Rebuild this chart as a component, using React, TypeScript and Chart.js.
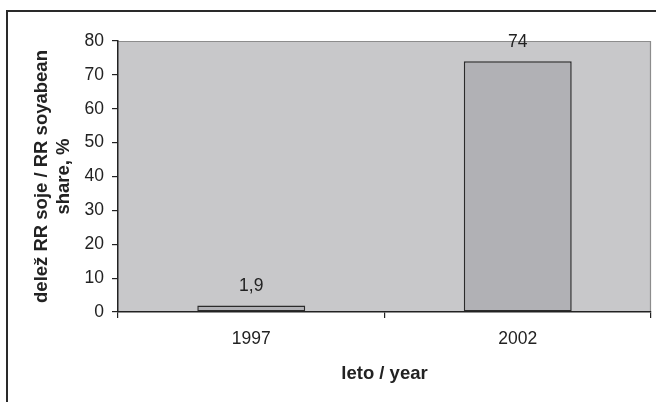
import React, { useEffect, useRef } from "react";
import { Chart, registerables } from "chart.js";

Chart.register(...registerables);

const categories = ["1997", "2002"];
const shareValues = [1.9, 74];
const valueLabels = ["1,9", "74"];
const yTitle = ["delež RR soje / RR soyabean", "share, %"];
const xTitle = "leto / year";

const FONT = "'Liberation Sans', Arial, sans-serif";
const INK = "#222222";

const framePlugin = {
  id: "framePlugin",
  beforeDraw(chart: any) {
    const { ctx, chartArea } = chart;
    ctx.save();
    ctx.fillStyle = "#ffffff";
    ctx.fillRect(0, 0, chart.width, chart.height);
    // outer frame
    ctx.fillStyle = "#2a2a2a";
    ctx.fillRect(6, 10, chart.width - 6, 2);
    ctx.fillRect(6, 10, 2, chart.height - 10);
    // plot area
    ctx.fillStyle = "#c8c8ca";
    ctx.fillRect(chartArea.left, chartArea.top, chartArea.right - chartArea.left, chartArea.bottom - chartArea.top);
    ctx.strokeStyle = "#8c8c8c";
    ctx.lineWidth = 1.2;
    ctx.beginPath();
    ctx.moveTo(chartArea.left, chartArea.top + 0.5);
    ctx.lineTo(chartArea.right - 0.5, chartArea.top + 0.5);
    ctx.lineTo(chartArea.right - 0.5, chartArea.bottom);
    ctx.stroke();
    ctx.restore();
  },
  afterDatasetsDraw(chart: any) {
    const { ctx } = chart;
    const meta = chart.getDatasetMeta(0);
    ctx.save();
    ctx.fillStyle = INK;
    ctx.font = `17.5px ${FONT}`;
    ctx.textAlign = "center";
    ctx.textBaseline = "middle";
    meta.data.forEach((bar: any, i: number) => {
      ctx.fillText(valueLabels[i], bar.x, bar.y - 19);
    });
    ctx.restore();
  },
};

export default function App() {
  const ref = useRef<HTMLCanvasElement | null>(null);
  useEffect(() => {
    if (!ref.current) return;
    const chart = new Chart(ref.current, {
      type: "bar",
      data: {
        labels: categories,
        datasets: [
          {
            data: shareValues,
            backgroundColor: "#b1b1b5",
            borderColor: "#2b2b2b",
            borderWidth: 1.5,
            borderSkipped: false,
            categoryPercentage: 1,
            barPercentage: 0.405,
          },
        ],
      },
      options: {
        animation: false,
        responsive: true,
        maintainAspectRatio: false,
        layout: { padding: { left: 0, top: 41, right: 5, bottom: 0 } },
        plugins: { legend: { display: false }, tooltip: { enabled: false } },
        scales: {
          x: {
            afterFit: (s: any) => {
              s.height = 90;
            },
            grid: { drawOnChartArea: false, drawTicks: true, tickLength: 6, color: INK, lineWidth: 1.2 },
            border: { display: true, color: INK, width: 1.5 },
            ticks: { color: INK, font: { family: FONT, size: 17.5 }, padding: 11 },
            title: {
              display: true,
              text: xTitle,
              color: INK,
              font: { family: FONT, size: 18.5, weight: "bold" },
              padding: { top: 0, bottom: 17 },
            },
          },
          y: {
            min: 0,
            max: 80,
            afterFit: (s: any) => {
              s.width = 118;
            },
            grid: { drawOnChartArea: false, drawTicks: true, tickLength: 6, color: INK, lineWidth: 1.2 },
            border: { display: true, color: INK, width: 1.5 },
            ticks: { stepSize: 10, color: INK, font: { family: FONT, size: 17.5 }, padding: 8 },
            title: {
              display: true,
              text: yTitle,
              color: INK,
              font: { family: FONT, size: 18.5, weight: "bold", lineHeight: 1.19 },
              padding: { top: 31, bottom: 0 },
            },
          },
        },
      },
      plugins: [framePlugin],
    });
    return () => chart.destroy();
  }, []);
  return (
    <div style={{ position: "absolute", left: 0, top: 0, width: 656, height: 402 }}>
      <canvas ref={ref} />
    </div>
  );
}
